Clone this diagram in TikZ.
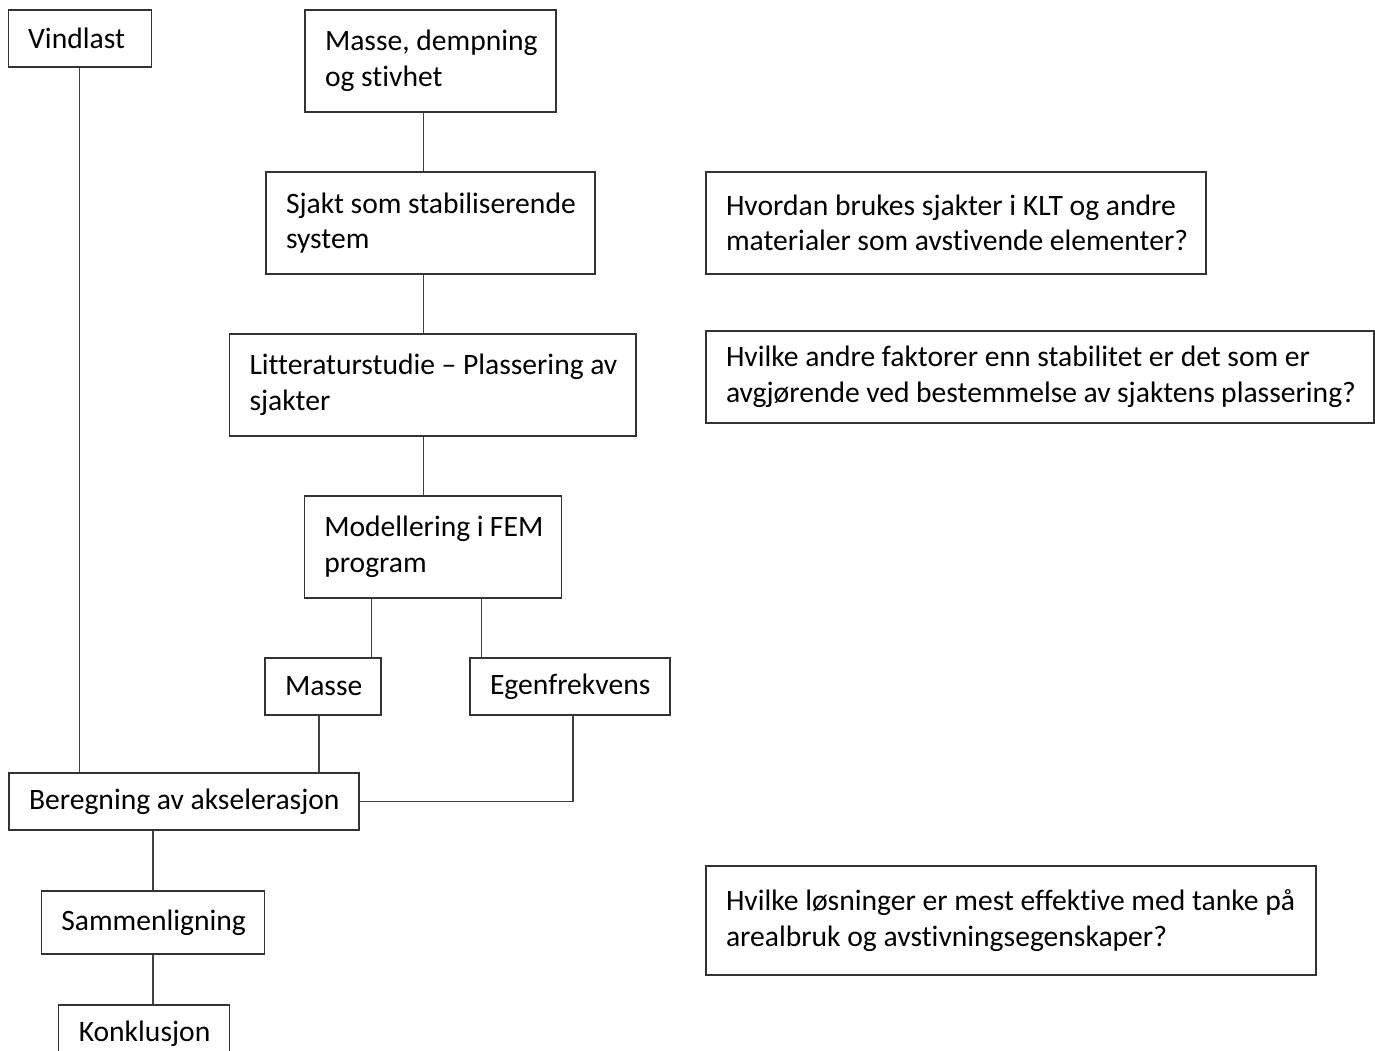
\documentclass[tikz,border=0pt]{standalone}
\usepackage{fontspec}
\setmainfont{Carlito}[Ligatures=NoCommon]
\begin{document}
\begin{tikzpicture}[x=1pt,y=1pt]
	\tikzstyle{boks} = [draw=black!80, line width=1.1pt, rectangle, align=flush left, inner xsep=20pt, inner ysep=0pt, font={\fontsize{29.6}{35.5}\selectfont}, execute at begin node={\rightskip=0pt plus 1fil minus 20pt}]
	\tikzstyle{linje} = [draw=black!75, line width=1.1pt]
	\useasboundingbox (0,0) rectangle (1375,-1051);
	\node[boks, text width=103pt, minimum height=57pt] (vindlast) at (79.7,-38.5) {Vindlast};
	\node[boks, text width=211pt, minimum height=102pt] (mds) at (430.5,-61) {Masse, dempning\\og stivhet};
	\node[boks, text width=289pt, minimum height=102pt, node distance=162pt] (sjakt) [below of=mds] {Sjakt som stabiliserende\\system};
	\node[boks, text width=366.5pt, minimum height=102pt, node distance=162pt] (litt) [below of=sjakt, xshift=2.25pt] {Litteraturstudie – Plassering av\\sjakter};
	\node[boks, text width=217pt, minimum height=102pt, node distance=162pt] (modell) [below of=litt] {Modellering i FEM\\program};
	\node[boks, text width=76pt, minimum height=57pt, node distance=139.5pt] (masse) [below of=modell, xshift=-109.75pt] {Masse};
	\node[boks, text width=160pt, minimum height=57pt, node distance=247pt] (egen) [right of=masse] {Egenfrekvens};
	\node[boks, text width=310pt, minimum height=57pt, node distance=115pt] (beregn) [below of=masse, xshift=-139pt] {Beregning av akselerasjon};
	\node[boks, text width=183.5pt, minimum height=63pt, node distance=121pt] (samm) [below of=beregn, xshift=-31pt] {Sammenligning};
	\node[boks, text width=130.5pt, minimum height=57pt, node distance=111pt] (konkl) [below of=samm, xshift=-9pt] {Konklusjon};
	\node[boks, text width=460pt, minimum height=102pt, node distance=525.5pt] (hvordan) [right of=sjakt] {Hvordan brukes sjakter i KLT og andre\\materialer som avstivende elementer?};
	\node[boks, text width=628pt, minimum height=92pt, node distance=607.25pt] (hvilke) [right of=litt, yshift=8pt] {Hvilke andre faktorer enn stabilitet er det som er\\avgjørende ved bestemmelse av sjaktens plassering?};
	\node[boks, text width=570pt, minimum height=109pt, node distance=858pt] (losn) [right of=samm, yshift=2pt] {Hvilke løsninger er mest effektive med tanke på\\arealbruk og avstivningsegenskaper?};
	\coordinate (akse) at (423.5,0);
	\coordinate (mA) at ([xshift=-10pt]masse.north east);
	\coordinate (mB) at ([xshift=-4pt]masse.south);
	\coordinate (eA) at ([xshift=12pt]egen.north west);
	\coordinate (eB) at ([xshift=3pt]egen.south);
	\draw[linje] (vindlast.south) -- (vindlast.south |- beregn.north);
	\draw[linje] (mds.south -| akse) -- (sjakt.north -| akse);
	\draw[linje] (sjakt.south -| akse) -- (litt.north -| akse);
	\draw[linje] (litt.south -| akse) -- (modell.north -| akse);
	\draw[linje] (mA) -- (mA |- modell.south);
	\draw[linje] (eA) -- (eA |- modell.south);
	\draw[linje] (mB) -- (mB |- beregn.north);
	\draw[linje] (eB) |- (beregn.east);
	\draw[linje] (samm.north) -- (samm.north |- beregn.south);
	\draw[linje] (samm.south) -- (samm.south |- konkl.north);
\end{tikzpicture}
\end{document}
